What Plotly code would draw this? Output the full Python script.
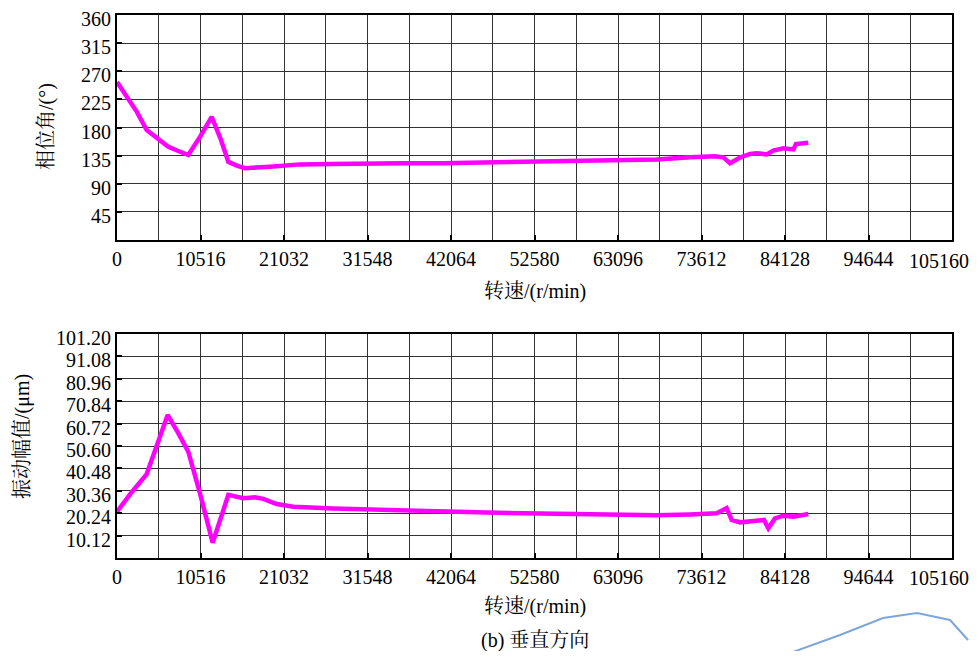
import plotly.graph_objects as go

# ---------------- data ----------------
x_ticks = [0, 10516, 21032, 31548, 42064, 52580, 63096, 73612, 84128, 94644, 105160]
x_tick_labels = ["0", "10516", "21032", "31548", "42064", "52580", "63096", "73612", "84128", "94644", "105160"]

phase_ticks = [45, 90, 135, 180, 225, 270, 315, 360]
phase_tick_labels = ["45", "90", "135", "180", "225", "270", "315", "360"]

amp_ticks = [10.12, 20.24, 30.36, 40.48, 50.60, 60.72, 70.84, 80.96, 91.08, 101.20]
amp_tick_labels = ["10.12", "20.24", "30.36", "40.48", "50.60", "60.72", "70.84", "80.96", "91.08", "101.20"]

phase_speed = [0, 1200, 2500, 3740, 5000, 6465, 7800, 8980, 10450, 11925, 13100, 14020, 15100, 16120,
               18850, 23050, 27000, 31450, 36000, 41000, 46560, 51500, 57470, 62500, 67970, 72164,
               75300, 76360, 77200, 78460, 79720, 80560, 81820, 82660, 83920, 85180, 85350, 85510, 87060]
phase_deg = [253, 230, 205, 176, 163, 149, 142, 136, 165, 197, 160, 125, 119, 115,
             117, 121, 121.5, 122.6, 122.8, 123, 124, 124.5, 126, 127.5, 129, 132.3,
             134, 132.3, 122.7, 132, 137.6, 138.7, 137, 143, 146.7, 145, 149, 153.6, 155.7]

amp_speed = [0, 1800, 3740, 4790, 6380, 7700, 8980, 10450, 12050, 14020, 15910, 17380, 18430,
             20110, 22210, 27240, 35640, 46560, 51170, 57000, 63770, 68000, 72164, 75520, 76780,
             77410, 78460, 80560, 81480, 82030, 82870, 83920, 85180, 87060]
amp_um = [20.9, 29.5, 37.9, 48.0, 64.6, 56.5, 48.0, 29.2, 6.9, 28.5, 27.0, 27.4, 26.7,
          24.4, 23.2, 22.4, 21.4, 20.5, 20.2, 19.8, 19.4, 19.3, 19.7, 20.2, 22.5,
          17.2, 16.1, 16.9, 17.2, 13.4, 17.9, 19.1, 18.7, 19.9]

caption = "(b) 垂直方向"
x_title = "转速/(r/min)"
phase_title = "相位角/(°)"
amp_title = "振动幅值/(μm)"

# ---------------- layout constants ----------------
# the page body has an 8px margin, so the figure is sized to fit the window exactly
OFF = 8
W, H = 980 - 2 * OFF, 659 - 2 * OFF
# target window-pixel positions of the plot frames
L_PX, R_PX = 117, 952
T1_PX, B1_PX = 15, 240
T2_PX, B2_PX = 334, 558
ML, MR, MT, MB = L_PX - OFF, (980 - OFF) - R_PX, T1_PX - OFF, (659 - OFF) - B2_PX
PW, PH = W - ML - MR, H - MT - MB


def px_x(p):
    return (p - L_PX) / PW


def px_y(p):
    return (B2_PX - p) / PH


FONT = "Liberation Serif, Times New Roman, Noto Serif CJK SC, Noto Sans CJK SC, serif"
LINE = "#ff00ff"
GRID = "#333333"
TICKFONT = dict(family=FONT, size=20, color="black")

fig = go.Figure()
fig.add_trace(go.Scatter(x=phase_speed, y=phase_deg, mode="lines",
                         line=dict(color=LINE, width=4.5), xaxis="x", yaxis="y",
                         showlegend=False, hoverinfo="x+y"))
fig.add_trace(go.Scatter(x=amp_speed, y=amp_um, mode="lines",
                         line=dict(color=LINE, width=4.5), xaxis="x2", yaxis="y2",
                         showlegend=False, hoverinfo="x+y"))

# the last x label would be clipped at the page edge, so it is drawn as a right-aligned annotation
shown_x_labels = x_tick_labels[:-1] + [""]

xcommon = dict(range=[0, 105160], tickvals=x_ticks, ticktext=shown_x_labels,
               showgrid=True, gridcolor=GRID, gridwidth=1,
               minor=dict(dtick=5258, tick0=0, showgrid=True, gridcolor=GRID, gridwidth=1, ticks=""),
               ticks="inside", ticklen=5, tickwidth=2, tickcolor="black",
               showline=True, linecolor="black", linewidth=2, mirror=True,
               zeroline=False, tickfont=TICKFONT, fixedrange=True, automargin=False,
               ticklabeloverflow="allow")

ycommon = dict(showgrid=True, gridcolor=GRID, gridwidth=1,
               ticks="inside", ticklen=5, tickwidth=2, tickcolor="black",
               showline=True, linecolor="black", linewidth=2, mirror=True, zeroline=False,
               tickfont=TICKFONT, fixedrange=True, automargin=False,
               ticklabeloverflow="allow", ticklabelshift=4)

fig.update_layout(
    width=W, height=H,
    margin=dict(l=ML, r=MR, t=MT, b=MB, autoexpand=False),
    paper_bgcolor="white", plot_bgcolor="white",
    font=dict(family=FONT, size=20, color="black"),
    xaxis=dict(domain=[0, 1], anchor="y", **xcommon),
    yaxis=dict(domain=[px_y(B1_PX), px_y(T1_PX)], anchor="x", range=[0, 360],
               tickvals=phase_ticks, ticktext=phase_tick_labels, **ycommon),
    xaxis2=dict(domain=[0, 1], anchor="y2", **xcommon),
    yaxis2=dict(domain=[px_y(B2_PX), px_y(T2_PX)], anchor="x2", range=[0, 101.2],
                tickvals=amp_ticks, ticktext=amp_tick_labels, **ycommon),
)

ann_font = dict(family=FONT, size=20, color="black")
for yl in (261, 578):
    fig.add_annotation(text=x_tick_labels[-1], xref="paper", yref="paper", x=px_x(971), y=px_y(yl),
                       showarrow=False, font=ann_font, xanchor="right", yanchor="middle")
fig.add_annotation(text=x_title, xref="paper", yref="paper", x=px_x(535), y=px_y(291),
                   showarrow=False, font=ann_font, xanchor="center", yanchor="middle")
fig.add_annotation(text=x_title, xref="paper", yref="paper", x=px_x(535), y=px_y(606),
                   showarrow=False, font=ann_font, xanchor="center", yanchor="middle")
fig.add_annotation(text=caption, xref="paper", yref="paper", x=px_x(535), y=px_y(640),
                   showarrow=False, font=ann_font, xanchor="center", yanchor="middle")
fig.add_annotation(text=phase_title, xref="paper", yref="paper", x=px_x(46), y=px_y(127),
                   showarrow=False, font=ann_font, textangle=-90, xanchor="center", yanchor="middle")
fig.add_annotation(text=amp_title, xref="paper", yref="paper", x=px_x(22), y=px_y(437),
                   showarrow=False, font=ann_font, textangle=-90, xanchor="center", yanchor="middle")

# decorative blue stroke overlapping the lower-right corner of the page
pts = [(793, 652), (840, 635), (883, 618), (917, 613), (950, 620), (968, 640)]
path = "M " + " L ".join(f"{px_x(a):.4f},{px_y(b):.4f}" for a, b in pts)
fig.add_shape(type="path", path=path, xref="paper", yref="paper",
              line=dict(color="#7fa6d8", width=2), layer="above")

fig.write_html("out.html")
